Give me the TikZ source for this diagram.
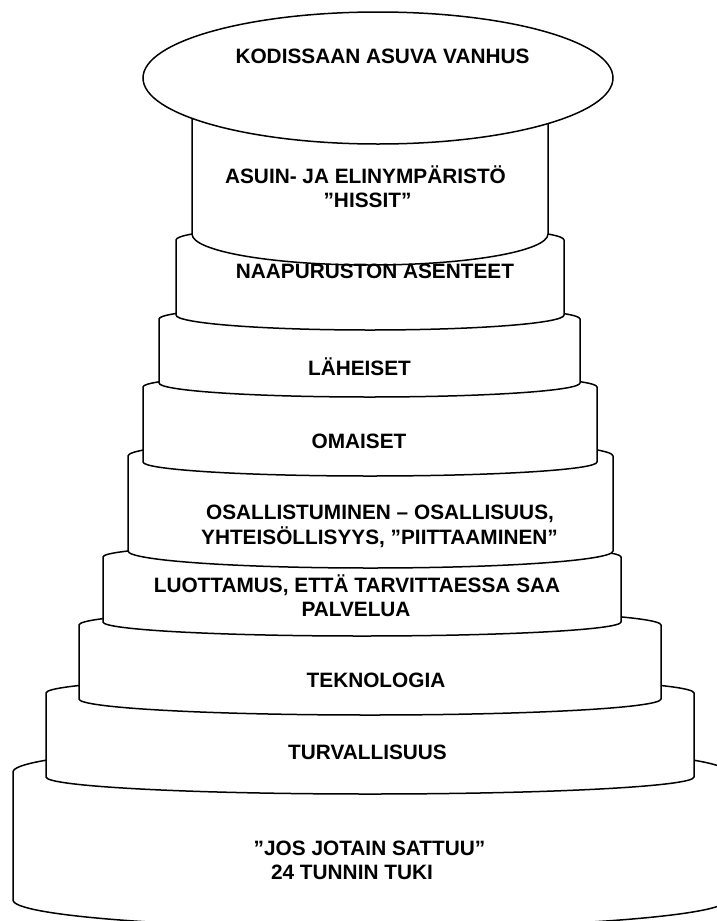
\documentclass[tikz,border=0pt]{standalone}
\usepackage{fontspec}
\setmainfont{Liberation Sans}
\usetikzlibrary{shapes.geometric}
\tikzset{
  layerpath/.style={draw=black, fill=white, line width=1.5pt, line join=round},
  txt/.style={font=\fontsize{20.8}{24}\selectfont\bfseries, inner sep=0pt, anchor=base, text=black}
}
\newcommand\drawlayer[5]{%
  \pgfmathsetmacro\halfw{(#2-#1)/2}%
  \draw[layerpath] (#1,#3) -- (#1,#4)
    arc[start angle=180, end angle=360, x radius=\halfw pt, y radius=#5pt]
    -- (#2,#3)
    arc[start angle=0, end angle=180, x radius=\halfw pt, y radius=#5pt]
    -- cycle;%
}
\begin{document}
\begin{tikzpicture}[x=1pt, y=-1pt]
\useasboundingbox (0,0) rectangle (717,921);
\clip (0,0) rectangle (717,921);
\fill[white] (0,0) rectangle (717,921);
% layers, bottom first
\drawlayer{13}{727}{772}{900}{28}
\drawlayer{46}{694}{693}{777}{17}
\drawlayer{79}{661}{625}{699}{16}
\drawlayer{103}{621}{557}{622}{14}
\drawlayer{128}{613}{456}{551}{17}
\drawlayer{143}{597}{387}{462}{14}
\drawlayer{159}{580}{319}{383}{14}
\drawlayer{176}{564}{240}{315}{15}
\drawlayer{192}{548}{110}{234}{31}
% top ellipse
\node[draw=black, fill=white, line width=1.5pt, ellipse, minimum width=470pt, minimum height=132pt, inner sep=0pt] (cap) at (378,78) {};
% texts
\node[txt] (t1) at (382.5,63) {KODISSAAN ASUVA VANHUS};
\node[txt] (t2a) at (365.5,183) {ASUIN- JA ELINYMPÄRISTÖ};
\node[txt] (t2b) at (367.5,207) {”HISSIT”};
\node[txt] (t3) at (375,278) {NAAPURUSTON ASENTEET};
\node[txt] (t4) at (359.5,375) {LÄHEISET};
\node[txt] (t5) at (359,448) {OMAISET};
\node[txt] (t6a) at (380,519) {OSALLISTUMINEN – OSALLISUUS,};
\node[txt] (t6b) at (379.5,544) {YHTEISÖLLISYYS, ”PIITTAAMINEN”};
\node[txt] (t7a) at (357,592) {LUOTTAMUS, ETTÄ TARVITTAESSA SAA};
\node[txt] (t7b) at (356,616) {PALVELUA};
\node[txt] (t8) at (376,687) {TEKNOLOGIA};
\node[txt] (t9) at (367.5,759) {TURVALLISUUS};
\node[txt] (t10a) at (369.5,855) {”JOS JOTAIN SATTUU”};
\node[txt] (t10b) at (352,879) {24 TUNNIN TUKI};
\end{tikzpicture}
\end{document}
